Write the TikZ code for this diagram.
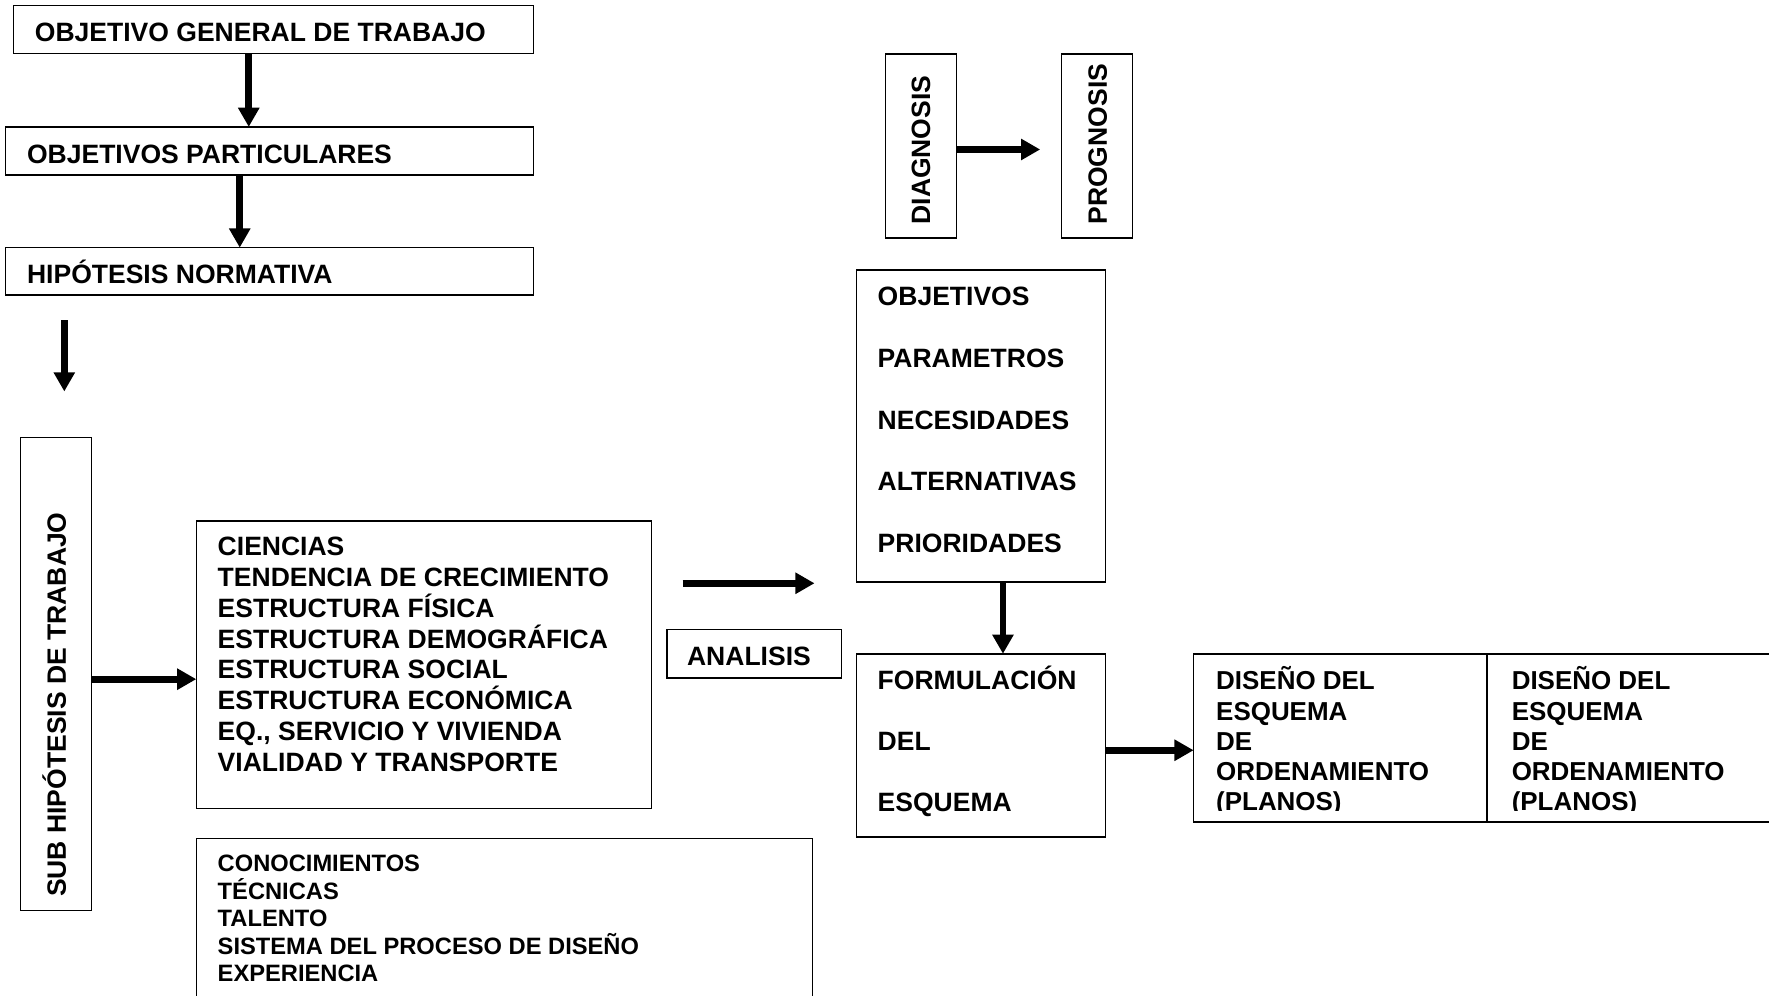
\documentclass[tikz,border=0pt]{standalone}
\usepackage{fontspec}
\setmainfont{Liberation Sans}
\usetikzlibrary{arrows.meta,calc}
\begin{document}
\begin{tikzpicture}[x=1pt,y=-1pt,
  box/.style={draw, line width=1.3pt, inner sep=0pt, outer sep=0pt, anchor=north west},
  txt/.style={font=\fontsize{23.5}{28}\selectfont\bfseries, inner sep=0pt, outer sep=0pt, anchor=base west},
  stxt/.style={txt, font=\fontsize{21}{25}\selectfont\bfseries},
  dtxt/.style={txt, font=\fontsize{23}{27}\selectfont\bfseries},
  arr/.style={line width=6pt, -{Triangle[width=18pt,length=17pt]}},
]
\useasboundingbox (0,0) rectangle (1568,882);

% boxes
\node[box, minimum width=461pt, minimum height=42.5pt] (b1) at (12,5) {};
\node[box, minimum width=468pt, minimum height=42.5pt] (b2) at (5,112.5) {};
\node[box, minimum width=468pt, minimum height=42pt] (b3) at (5,219.5) {};
\node[box, minimum width=63pt, minimum height=419pt] (sub) at (18,388) {};
\node[box, minimum width=403.5pt, minimum height=254.5pt] (cie) at (174,462) {};
\node[box, minimum width=155pt, minimum height=43pt] (ana) at (591,558) {};
\node[box, minimum width=546pt, minimum height=160pt] (con) at (174,743) {};
\node[box, minimum width=63pt, minimum height=163pt] (diag) at (785,48) {};
\node[box, minimum width=63pt, minimum height=163pt] (prog) at (941,48) {};
\node[box, minimum width=221pt, minimum height=276.5pt] (obj) at (759,239.5) {};
\node[box, minimum width=221pt, minimum height=162.5pt] (form) at (759,579.5) {};
\node[box, minimum width=520pt, minimum height=149pt] (dis) at (1058,579.5) {};
\draw[line width=1pt] ($(dis.north west)+(260,0)$) -- ($(dis.south west)+(260,0)$);

% texts
\node[txt] (t1) at (31,37) {OBJETIVO GENERAL DE TRABAJO};
\node[txt] (t2) at (24,144.5) {OBJETIVOS PARTICULARES};
\node[txt] (t3) at (24,251.5) {HIPÓTESIS NORMATIVA};
\node[txt, rotate=90] (tsub) at (58.5,795) {SUB HIPÓTESIS DE TRABAJO};
\node[txt, rotate=90] (tdiag) at (824.5,199) {DIAGNOSIS};
\node[txt, rotate=90] (tprog) at (981,199) {PROGNOSIS};
\node[txt] (tana) at (609,590) {ANALISIS};

\foreach \t [count=\i from 0] in {CIENCIAS, TENDENCIA DE CRECIMIENTO, ESTRUCTURA FÍSICA, ESTRUCTURA DEMOGRÁFICA, ESTRUCTURA SOCIAL, ESTRUCTURA ECONÓMICA, {EQ., SERVICIO Y VIVIENDA}, VIALIDAD Y TRANSPORTE}
  \node[txt] (tc\i) at (193,492.5+27.3*\i) {\t};

\foreach \t [count=\i from 0] in {CONOCIMIENTOS, TÉCNICAS, TALENTO, SISTEMA DEL PROCESO DE DISEÑO, EXPERIENCIA}
  \node[stxt] (tk\i) at (193,772.5+24.4*\i) {\t};

\foreach \t [count=\i from 0] in {OBJETIVOS, PARAMETROS, NECESIDADES, ALTERNATIVAS, PRIORIDADES}
  \node[txt] (to\i) at (778,271+54.7*\i) {\t};

\foreach \t [count=\i from 0] in {FORMULACIÓN, DEL, ESQUEMA}
  \node[txt] (tf\i) at (778,611+54.3*\i) {\t};

\begin{scope}
  \clip (1058,579.5) rectangle (1580,718.8);
  \foreach \t [count=\i from 0] in {DISEÑO DEL, ESQUEMA, DE, ORDENAMIENTO, (PLANOS)} {
    \node[dtxt] (tda\i) at (1078,611.5+26.7*\i) {\t};
    \node[dtxt] (tdb\i) at (1340,611.5+26.7*\i) {\t};
  }
\end{scope}

% arrows
\draw[arr] ([xshift=208.5pt]b1.south west) -- ([xshift=215.5pt]b2.north west);
\draw[arr] ([xshift=207.5pt]b2.south west) -- ([xshift=207.5pt]b3.north west);
\coordinate (a3s) at (57,284);
\coordinate (a3e) at (57,347);
\draw[arr] (a3s) -- (a3e);
\path (sub.east) ++(0,4.5) coordinate (a4s);
\draw[arr] (a4s) -- (a4s -| cie.west);
\coordinate (a5s) at (605,517);
\coordinate (a5e) at (722,517);
\draw[arr] (a5s) -- (a5e);
\path (diag.east) ++(0,3) coordinate (a6s);
\coordinate (a6e) at (922,132.5);
\draw[arr] (a6s) -- (a6e);
\draw[arr] ([xshift=130pt]obj.south west) -- ([xshift=130pt]form.north west);
\path (form.east) ++(0,4.25) coordinate (a8s);
\draw[arr] (a8s) -- (a8s -| dis.west);
\end{tikzpicture}
\end{document}
